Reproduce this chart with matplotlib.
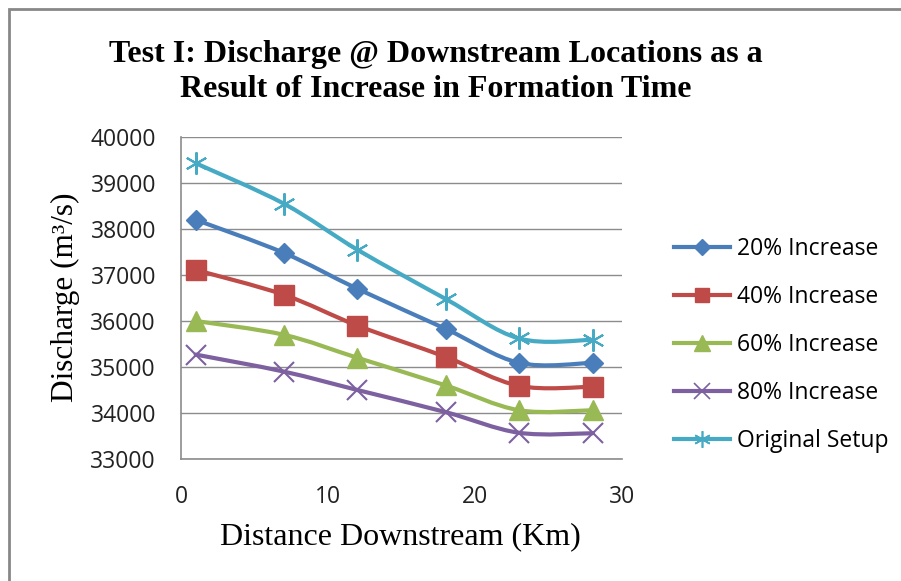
import matplotlib
matplotlib.use("Agg")
import matplotlib.pyplot as plt
from matplotlib.path import Path
from matplotlib.patches import PathPatch, Rectangle
from matplotlib.lines import Line2D

# distance downstream (km) and discharge (m3/s) per scenario
distance = [1, 7, 12, 18, 23, 28]
inc20 = [38200, 37480, 36700, 35830, 35090, 35090]
inc40 = [37110, 36570, 35900, 35220, 34590, 34570]
inc60 = [36000, 35700, 35200, 34600, 34060, 34060]
inc80 = [35270, 34900, 34500, 34020, 33570, 33560]
original = [39430, 38550, 37550, 36480, 35620, 35590]

labels = ["20% Increase", "40% Increase", "60% Increase", "80% Increase", "Original Setup"]
series = [inc20, inc40, inc60, inc80, original]
colors = ["#4A7EBB", "#BE4B48", "#98B954", "#7D60A0", "#46AAC5"]
markers = ["D", "s", "^", "x", (6, 2, 0)]
msizes = [10.5, 14, 15, 15, 16]

TICKFONT = "Open Sans"
SERIF = "Liberation Serif"


def smooth_path(x, y):
    # excel-like smoothed line: cubic bezier through the points
    verts = [(x[0], y[0])]
    codes = [Path.MOVETO]
    n = len(x)
    for i in range(n - 1):
        x0, y0 = (x[i - 1], y[i - 1]) if i > 0 else (x[i], y[i])
        x3, y3 = (x[i + 2], y[i + 2]) if i + 2 < n else (x[i + 1], y[i + 1])
        c1 = (x[i] + (x[i + 1] - x0) / 6.0, y[i] + (y[i + 1] - y0) / 6.0)
        c2 = (x[i + 1] - (x3 - x[i]) / 6.0, y[i + 1] - (y3 - y[i]) / 6.0)
        verts += [c1, c2, (x[i + 1], y[i + 1])]
        codes += [Path.CURVE4] * 3
    return Path(verts, codes)


fig = plt.figure(figsize=(9.01, 5.81), dpi=100)
W, H = 901.0, 581.0
ax = fig.add_axes([181 / W, 1 - 459 / H, (622 - 181) / W, (459 - 137) / H])

handles = []
for vals, lab, c, m, ms in zip(series, labels, colors, markers, msizes):
    ax.add_patch(PathPatch(smooth_path(distance, vals), facecolor="none", edgecolor=c,
                           lw=3, capstyle="round", joinstyle="round", zorder=3))
    thin = m in ("x",) or isinstance(m, tuple)
    ax.plot(distance, vals, linestyle="none", marker=m, markersize=ms, color=c,
            markeredgewidth=1.5 if thin else 1, zorder=4)
    handles.append(Line2D([], [], color=c, lw=3, marker=m, markersize=ms * 0.75,
                          markeredgewidth=1.2 if thin else 1, label=lab))

ax.set_xlim(0, 30)
ax.set_ylim(33000, 40000)
ax.set_xticks([0, 10, 20, 30])
ax.set_yticks(range(33000, 40001, 1000))
ax.grid(axis="y", color="#8c8c8c", lw=1)
ax.set_axisbelow(True)
for s in ["top", "right"]:
    ax.spines[s].set_visible(False)
for s in ["left", "bottom"]:
    ax.spines[s].set_color("#8c8c8c")
    ax.spines[s].set_linewidth(1.2)
ax.tick_params(length=0, labelsize=16.5, labelcolor="#222222")
ax.tick_params(axis="x", pad=19)
ax.tick_params(axis="y", pad=18)
for t in ax.get_xticklabels() + ax.get_yticklabels():
    t.set_fontfamily(TICKFONT)

fig.text(436 / W, 1 - 72 / H, "Test I: Discharge @ Downstream Locations as a\nResult of Increase in Formation Time",
         ha="center", va="center", fontsize=23, fontweight="bold", family=SERIF,
         linespacing=1.3)
fig.text(400 / W, 1 - 537 / H, "Distance Downstream (Km)", ha="center", va="center",
         fontsize=23, family=SERIF)
fig.text(65 / W, 1 - 297 / H, "Discharge (m\u00b3/s)", ha="center", va="center",
         rotation=90, fontsize=22.5, family=SERIF)

fig.legend(handles=handles, loc="center left", bbox_to_anchor=(674 / W, 1 - 345 / H),
           frameon=False, prop={"family": TICKFONT, "size": 16.5}, handlelength=2.45,
           handletextpad=0.3, labelspacing=1.05, borderpad=0, borderaxespad=0)

fig.patches.append(Rectangle((9 / W, -0.1), 1.2, 1 - 9 / H + 0.1, transform=fig.transFigure,
                             fill=False, edgecolor="#888888", lw=2))

fig.savefig("out.png", dpi=100)
